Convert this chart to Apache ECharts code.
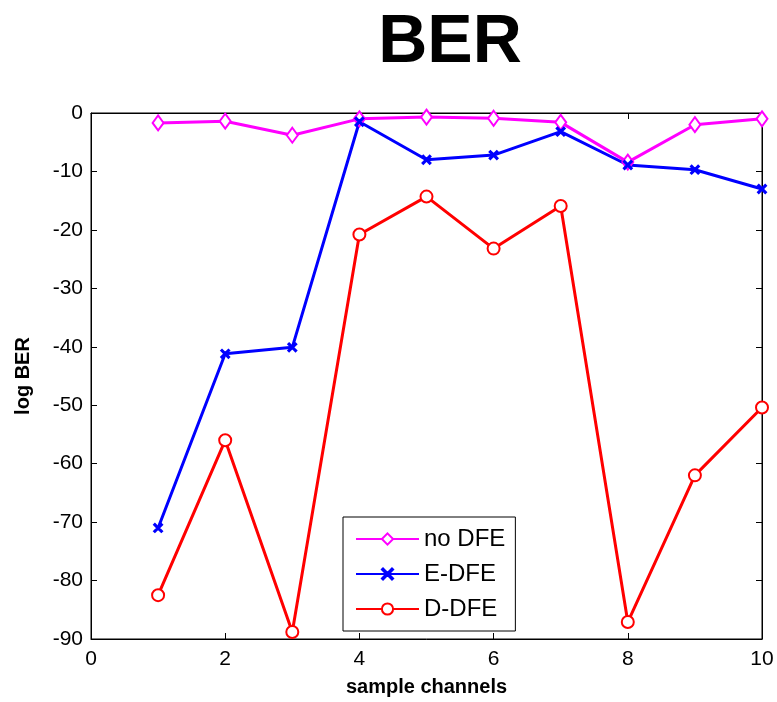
<!DOCTYPE html>
<html>
<head>
<meta charset="utf-8">
<script src="https://cdn.jsdelivr.net/npm/echarts@6/dist/echarts.min.js"></script>
<style>
  html, body { margin: 0; padding: 0; background: #fff; }
  #chart { width: 777px; height: 702px; }
</style>
</head>
<body>
<div id="chart"></div>
<script>
  // sample channels 1..10
  const channels = [1, 2, 3, 4, 5, 6, 7, 8, 9, 10]
  const noDfe = [-1.7, -1.4, -3.8, -1.0, -0.7, -0.9, -1.6, -8.4, -2.0, -1.0]
  const eDfe = [-71.0, -41.2, -40.1, -1.5, -8.0, -7.2, -3.2, -8.9, -9.7, -13.0]
  const dDfe = [-82.5, -56.0, -88.8, -20.8, -14.3, -23.2, -15.9, -87.1, -62.0, -50.4]

  const font = 'Liberation Sans, Arial, sans-serif'
  const crossPath = 'path://M0,1L1,0L5,4L9,0L10,1L6,5L10,9L9,10L5,6L1,10L0,9L4,5Z'

  function pairs(vals) {
    return channels.map((c, i) => [c, vals[i]])
  }

  function lineSeries(name, vals, color, symbol, size) {
    return {
      name: name,
      type: 'line',
      data: pairs(vals),
      symbol: symbol,
      symbolSize: size,
      showAllSymbol: true,
      lineStyle: { color: color, width: 3 },
      itemStyle: { color: color, borderColor: color, borderWidth: 2 },
      emphasis: { disabled: true },
      animation: false,
    }
  }

  const line = { show: true, onZero: false, lineStyle: { color: '#000', width: 1 } }
  const tick = { show: true, inside: true, length: 6, lineStyle: { color: '#000' } }

  const chart = echarts.init(document.getElementById('chart'))
  chart.setOption({
    backgroundColor: '#fff',
    title: {
      text: 'BER',
      left: 445,
      top: 4,
      textAlign: 'center',
      textStyle: { fontFamily: font, fontSize: 68, fontWeight: 'bold', color: '#000' },
    },
    grid: {
      left: 91, right: 15, top: 113, bottom: 62,
      show: true, borderColor: '#000', borderWidth: 1, backgroundColor: '#fff',
    },
    legend: {
      data: ['no DFE', 'E-DFE', 'D-DFE'],
      orient: 'vertical',
      left: 343,
      top: 517,
      width: 178,
      backgroundColor: '#fff',
      borderColor: '#000',
      borderWidth: 1,
      padding: [10, 10, 10, 12],
      itemWidth: 63,
      itemHeight: 14,
      itemGap: 11,
      textStyle: { fontFamily: font, fontSize: 24, color: '#000' },
    },
    xAxis: [
      {
        type: 'value', min: 0, max: 10, interval: 2, position: 'bottom',
        name: 'sample channels', nameLocation: 'middle', nameGap: 38,
        nameTextStyle: { fontFamily: font, fontSize: 20, fontWeight: 'bold', color: '#000' },
        axisLine: line,
        axisTick: tick,
        axisLabel: { fontFamily: font, fontSize: 21, color: '#000', margin: 10 },
        splitLine: { show: false },
      },
      {
        type: 'value', min: 0, max: 10, interval: 2, position: 'top',
        axisLine: line,
        axisTick: tick,
        axisLabel: { show: false },
        splitLine: { show: false },
      },
    ],
    yAxis: [
      {
        type: 'value', min: -90, max: 0, interval: 10, position: 'left',
        name: 'log BER', nameLocation: 'middle', nameGap: 58,
        nameTextStyle: { fontFamily: font, fontSize: 20, fontWeight: 'bold', color: '#000' },
        axisLine: line,
        axisTick: tick,
        axisLabel: { fontFamily: font, fontSize: 21, color: '#000', margin: 8 },
        splitLine: { show: false },
      },
      {
        type: 'value', min: -90, max: 0, interval: 10, position: 'right',
        axisLine: line,
        axisTick: tick,
        axisLabel: { show: false },
        splitLine: { show: false },
      },
    ],
    series: [
      lineSeries('no DFE', noDfe, '#ff00ff', 'emptyDiamond', [11, 15]),
      lineSeries('E-DFE', eDfe, '#0000ff', crossPath, 8),
      lineSeries('D-DFE', dDfe, '#ff0000', 'emptyCircle', 12),
    ],
  })
</script>
</body>
</html>
